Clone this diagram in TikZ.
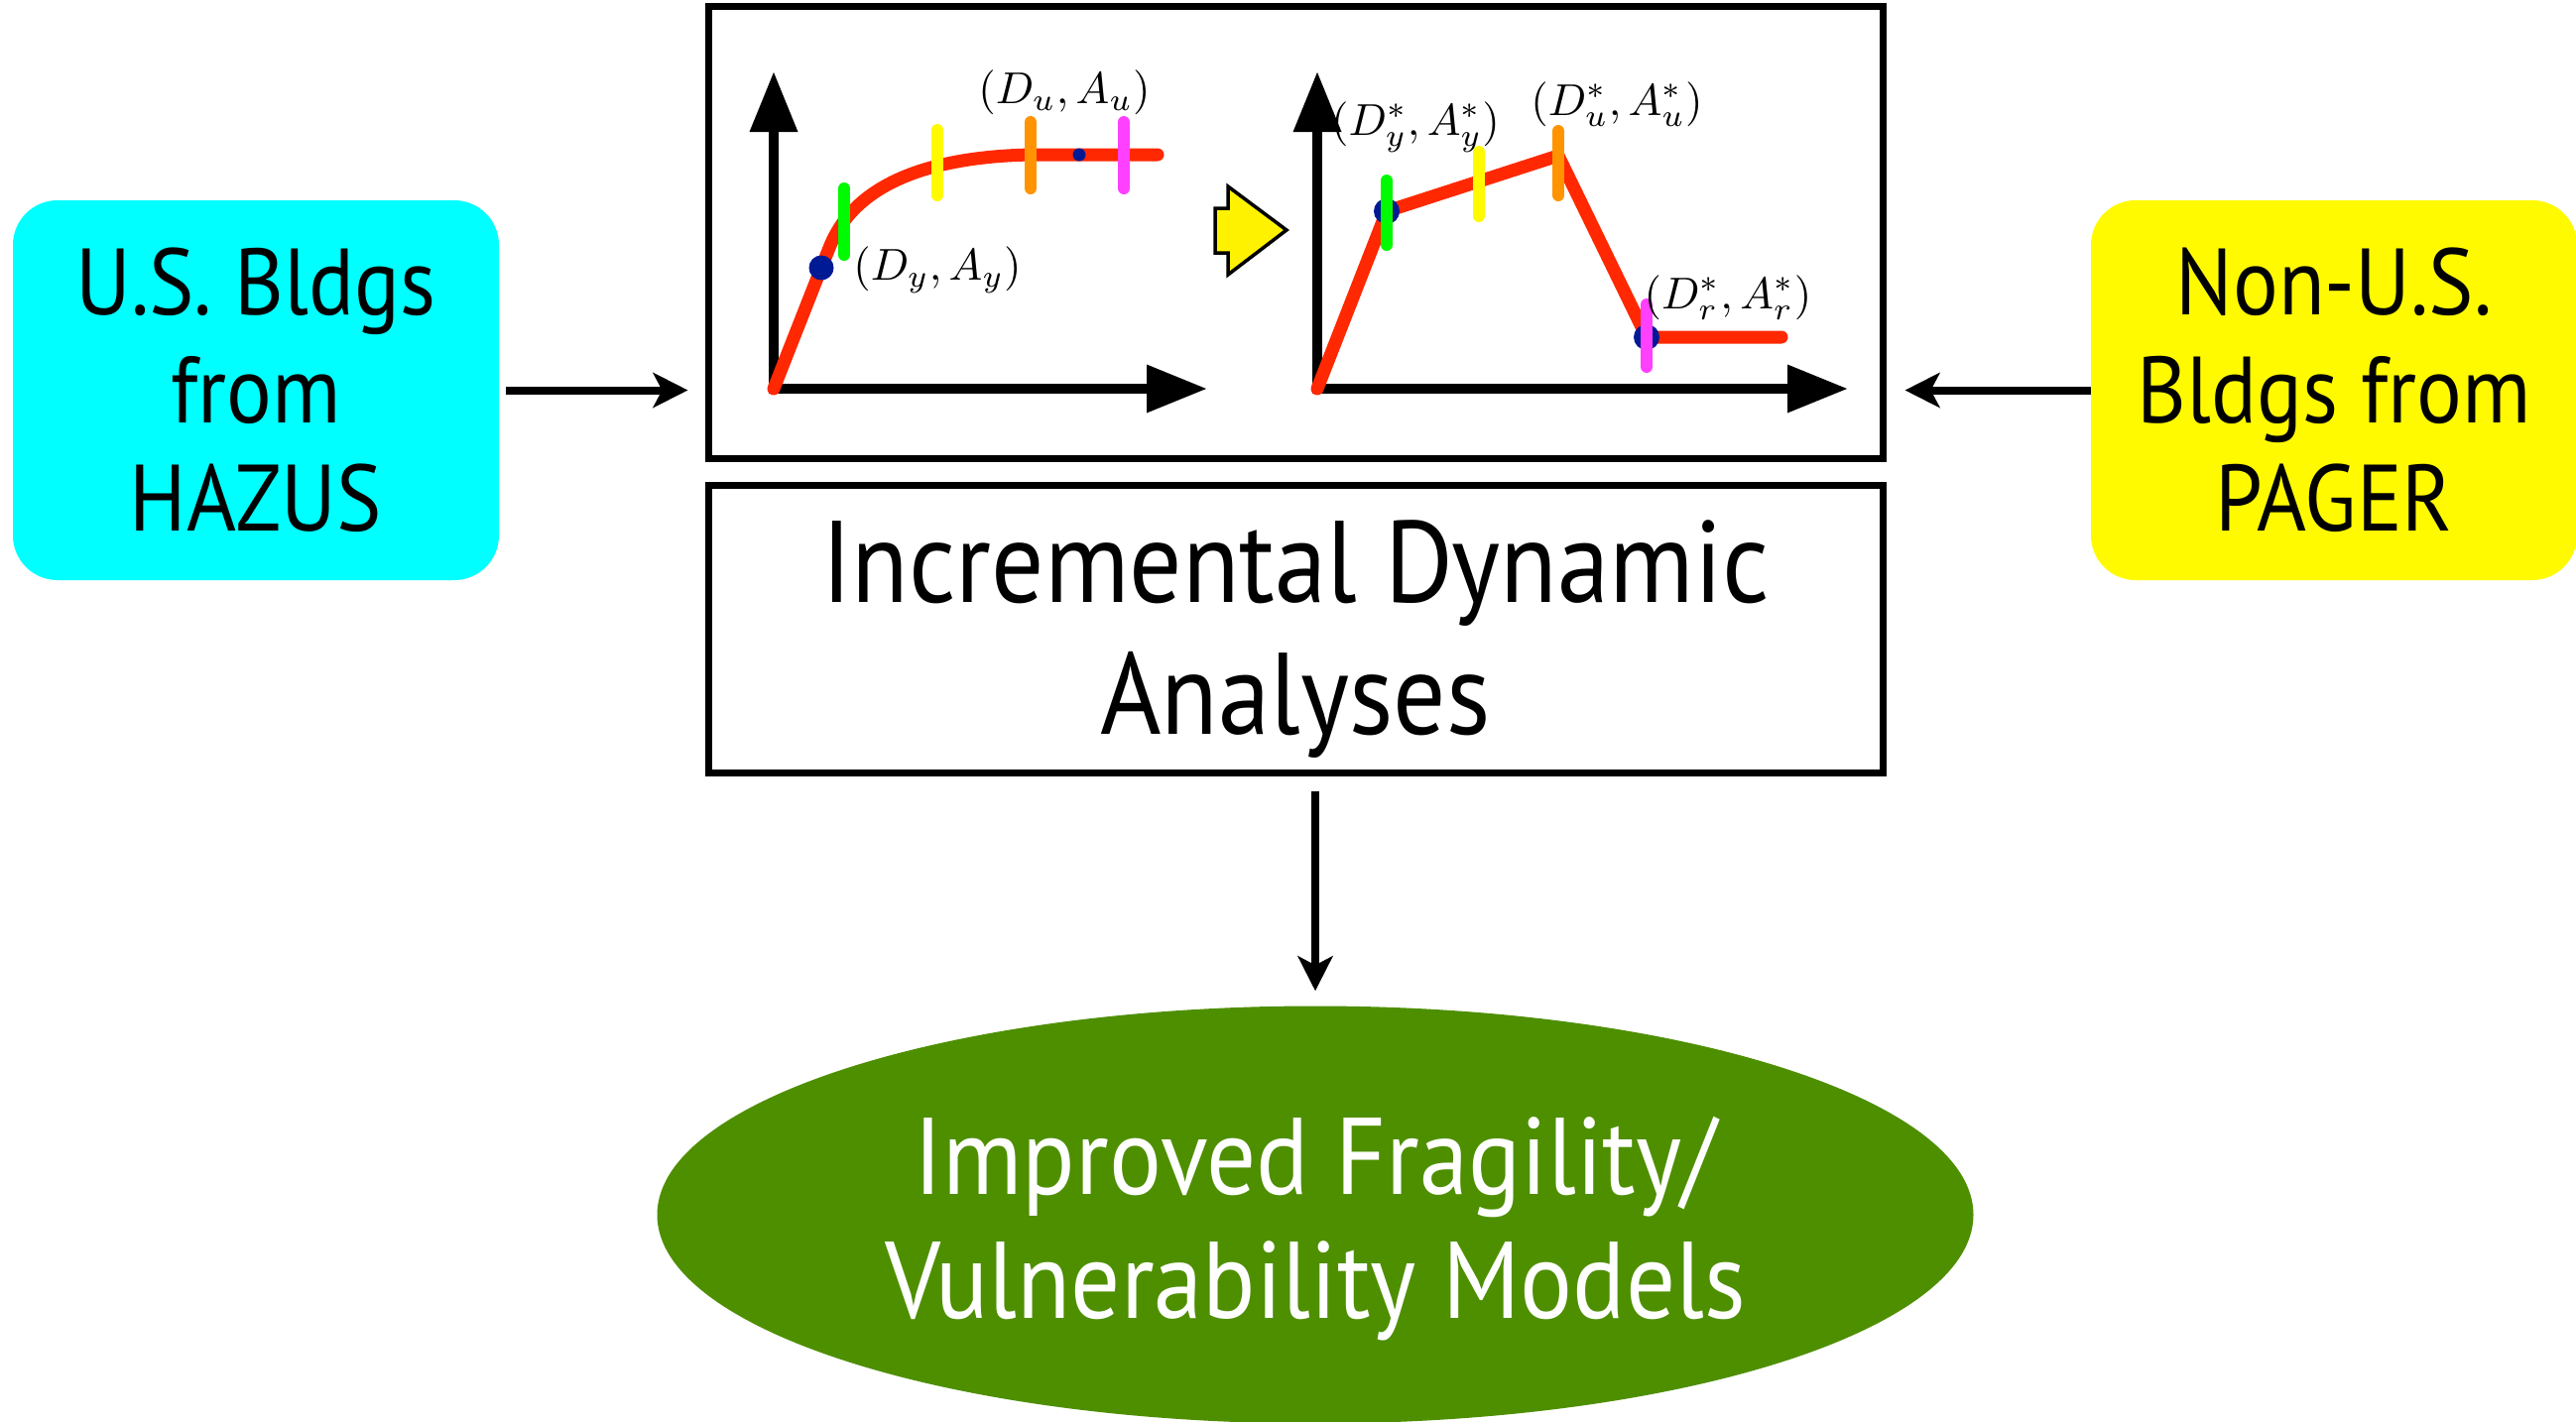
\documentclass[tikz,border=0pt]{standalone}
\usepackage{fontspec}
\setmainfont{PT Sans}
\newfontfamily\gill[FakeStretch=0.9]{PT Sans}
\usetikzlibrary{arrows.meta,shapes.geometric}
\definecolor{boxcyan}{RGB}{0,255,255}
\definecolor{boxyellow}{RGB}{255,250,0}
\definecolor{modelgreen}{RGB}{78,143,0}
\definecolor{curvered}{RGB}{255,40,0}
\definecolor{tickgreen}{RGB}{0,250,0}
\definecolor{tickyellow}{RGB}{255,250,0}
\definecolor{tickorange}{RGB}{255,148,0}
\definecolor{tickpink}{RGB}{255,64,255}
\definecolor{dotblue}{RGB}{0,26,150}
\tikzset{
  srcbox/.style={rounded corners=45pt, minimum width=490pt, minimum height=383pt,
    align=center, inner sep=0pt, font=\gill\fontsize{95}{109}\selectfont},
  frame/.style={draw, line width=7pt, minimum width=1184pt, inner sep=0pt},
  conn/.style={line width=8pt, -{Stealth[length=35pt,width=35pt,inset=9pt]}},
  axis/.style={line width=10pt, {Triangle[length=61pt,width=46pt]}-{Triangle[length=61pt,width=46pt]}},
  curve/.style={curvered, line width=13pt, line cap=round, line join=round},
  tickmark/.style={line width=12pt, line cap=round},
  mathlabel/.style={scale=4.5, inner sep=0pt}
}
\begin{document}
\begin{tikzpicture}[x=1pt,y=-1pt]
\useasboundingbox (0,0) rectangle (2597,1433);

% source boxes
\node[srcbox, fill=boxcyan] (us) at (258,393.5) {U.S. Bldgs\\from\\HAZUS};
\node[srcbox, fill=boxyellow] (nonus) at (2353,393.5) {Non-U.S.\\Bldgs from\\PAGER};

% frames
\node[frame, minimum height=456pt] (plots) at (1306,234) {};
\node[frame, minimum height=290pt] (ida) at (1306,634.5) {};
\node[align=center, inner sep=0pt, font=\gill\fontsize{117}{133}\selectfont]
  (idatext) at ([yshift=-10pt]ida.center) {Incremental Dynamic\\Analyses};

% result ellipse
\node[ellipse, fill=modelgreen, minimum width=1327pt, minimum height=421pt, inner sep=0pt] (models) at (1326,1225) {};
\node[align=center, inner sep=0pt, text=white, font=\gill\fontsize{110}{125}\selectfont]
  (modeltext) at ([yshift=-14pt]models.center) {Improved Fragility/\\Vulnerability Models};

% connectors
\draw[conn, shorten <=7pt, shorten >=17pt] (us.east) -- (us.east -| plots.west);
\draw[conn, shorten >=19pt] (nonus.west) -- (nonus.west -| plots.east);
\draw[conn, shorten <=15pt, shorten >=15pt] (models.north |- ida.south) -- (models.north);

% ---- plot 1 ----
\draw[axis] (780,72) -- (780,392) -- (1217,392);
\draw[curve] (780,392) -- (828,270) -- (836,250) .. controls (861,186) and (935,158) .. (1040,156) -- (1167,156);
\fill[dotblue] (828,270) circle[radius=12.5];
\fill[dotblue] (1088,156) circle[radius=6.5];
\draw[tickmark, tickgreen] (851,190) -- (851,257);
\draw[tickmark, tickyellow] (945,131) -- (945,197);
\draw[tickmark, tickorange] (1039,123) -- (1039,190);
\draw[tickmark, tickpink] (1133,123) -- (1133,190);
\node[mathlabel] (lyA) at (945,272) {$(D_y,A_y)$};
\node[mathlabel] (luA) at (1073,93) {$(D_u,A_u)$};

% transition arrow
\draw[fill=yellow, line width=3.5pt, line join=miter] (1238,188) -- (1297,232) -- (1238,277) -- (1238,255) -- (1225,255) -- (1225,210) -- (1238,210) -- cycle;

% ---- plot 2 ----
\draw[axis] (1328,72) -- (1328,392) -- (1863,392);
\draw[curve] (1328,392) -- (1398,213) -- (1571,157) -- (1660,340) -- (1796,340);
\fill[dotblue] (1398,213) circle[radius=13];
\fill[dotblue] (1660,340) circle[radius=13];
\draw[tickmark, tickgreen] (1398,182) -- (1398,247);
\draw[tickmark, tickyellow] (1491,153) -- (1491,218);
\draw[tickmark, tickorange] (1571,132) -- (1571,197);
\draw[tickmark, tickpink] (1660,307) -- (1660,370);
\node[mathlabel] (lyB) at (1427,128) {$(D_y^*,A_y^*)$};
\node[mathlabel] (luB) at (1630,105) {$(D_u^*,A_u^*)$};
\node[mathlabel] (lrB) at (1742,300) {$(D_r^*,A_r^*)$};
\end{tikzpicture}
\end{document}
